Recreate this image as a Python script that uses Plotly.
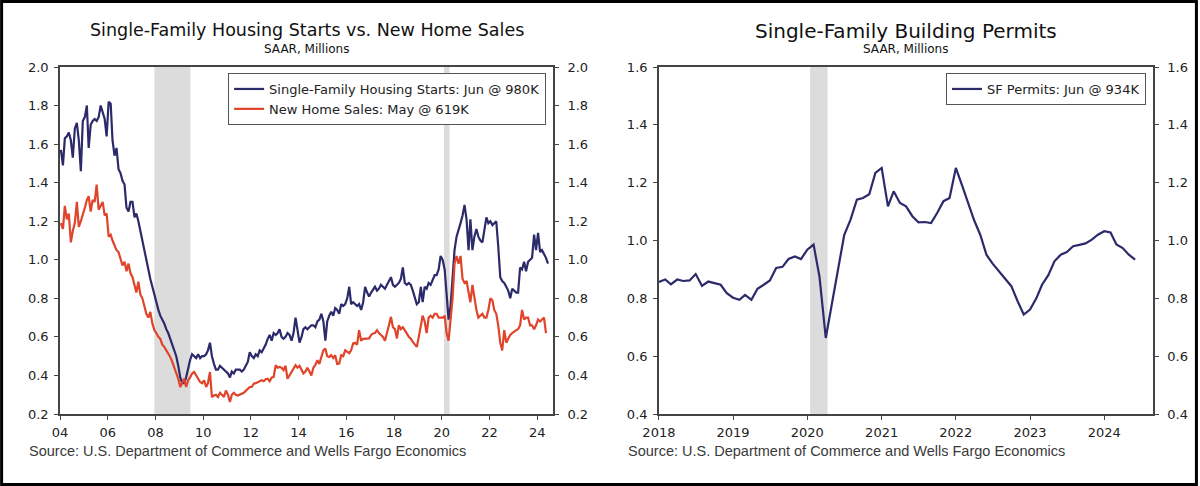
import pandas as pd
import plotly.graph_objects as go

# ---------------- DATA ----------------
# Single-family housing starts, SAAR millions, monthly Jan 2004 - Jun 2024
starts = [
    1.57, 1.49, 1.63, 1.64, 1.66, 1.62, 1.53, 1.68, 1.71, 1.62, 1.46, 1.72,   # 2004
    1.74, 1.80, 1.58, 1.70, 1.72, 1.73, 1.72, 1.74, 1.80, 1.77, 1.73, 1.64,   # 2005
    1.82, 1.81, 1.62, 1.54, 1.58, 1.47, 1.45, 1.41, 1.39, 1.27, 1.25, 1.30,   # 2006
    1.30, 1.22, 1.24, 1.20, 1.15, 1.10, 1.04, 1.00, 0.95, 0.90, 0.86, 0.82,   # 2007
    0.77, 0.74, 0.71, 0.69, 0.67, 0.64, 0.62, 0.59, 0.56, 0.53, 0.50, 0.45,   # 2008
    0.39, 0.36, 0.36, 0.39, 0.44, 0.48, 0.51, 0.50, 0.49, 0.51, 0.49, 0.50,   # 2009
    0.50, 0.51, 0.53, 0.57, 0.50, 0.46, 0.43, 0.43, 0.45, 0.44, 0.43, 0.42,   # 2010
    0.41, 0.39, 0.42, 0.41, 0.43, 0.43, 0.43, 0.42, 0.43, 0.45, 0.47, 0.52,   # 2011
    0.50, 0.49, 0.51, 0.50, 0.53, 0.52, 0.54, 0.56, 0.59, 0.61, 0.58, 0.62,   # 2012
    0.61, 0.62, 0.64, 0.60, 0.59, 0.60, 0.62, 0.61, 0.58, 0.62, 0.70, 0.64,   # 2013
    0.57, 0.60, 0.64, 0.65, 0.64, 0.65, 0.66, 0.66, 0.65, 0.68, 0.69, 0.72,   # 2014
    0.68, 0.58, 0.68, 0.71, 0.73, 0.71, 0.75, 0.74, 0.72, 0.77, 0.76, 0.77,   # 2015
    0.80, 0.86, 0.77, 0.78, 0.77, 0.76, 0.77, 0.74, 0.78, 0.86, 0.83, 0.81,   # 2016
    0.83, 0.85, 0.86, 0.84, 0.85, 0.87, 0.86, 0.85, 0.87, 0.89, 0.91, 0.87,   # 2017
    0.86, 0.87, 0.88, 0.90, 0.96, 0.88, 0.87, 0.88, 0.87, 0.84, 0.80, 0.77,   # 2018
    0.78, 0.86, 0.78, 0.86, 0.85, 0.88, 0.87, 0.90, 0.92, 0.92, 0.95, 1.02,   # 2019
    1.00, 0.95, 0.83, 0.69, 0.76, 0.91, 1.05, 1.12, 1.15, 1.19, 1.23, 1.285,  # 2020
    1.21, 1.05, 1.21, 1.05, 1.12, 1.16, 1.12, 1.10, 1.09, 1.15, 1.22, 1.19,   # 2021
    1.20, 1.18, 1.19, 1.20, 1.07, 0.91, 0.89, 0.88, 0.86, 0.84, 0.80, 0.85,   # 2022
    0.84, 0.83, 0.83, 0.96, 0.95, 0.99, 0.94, 0.99, 1.00, 1.01, 1.13, 1.05,   # 2023
    1.14, 1.04, 1.05, 1.03, 1.01, 0.98,                                       # 2024
]

# New home sales, SAAR millions, monthly Jan 2004 - May 2024
sales = [
    1.19, 1.16, 1.28, 1.21, 1.24, 1.09, 1.15, 1.19, 1.30, 1.17, 1.20, 1.23,   # 2004
    1.27, 1.31, 1.33, 1.25, 1.31, 1.30, 1.39, 1.26, 1.28, 1.30, 1.23, 1.24,   # 2005
    1.12, 1.13, 1.10, 1.07, 1.05, 1.04, 1.00, 0.97, 0.99, 0.94, 0.98, 0.93,   # 2006
    0.91, 0.86, 0.83, 0.886, 0.82, 0.80, 0.76, 0.72, 0.70, 0.73, 0.67, 0.635, # 2007
    0.62, 0.60, 0.59, 0.56, 0.548, 0.53, 0.51, 0.496, 0.47, 0.444, 0.41, 0.383,  # 2008
    0.34, 0.36, 0.383, 0.34, 0.375, 0.39, 0.41, 0.418, 0.40, 0.383, 0.366, 0.36, # 2009
    0.375, 0.34, 0.36, 0.418, 0.288, 0.296, 0.30, 0.288, 0.31, 0.30, 0.288, 0.322,  # 2010
    0.30, 0.262, 0.30, 0.31, 0.30, 0.296, 0.30, 0.305, 0.31, 0.32, 0.33, 0.34,  # 2011
    0.34, 0.357, 0.36, 0.366, 0.37, 0.375, 0.37, 0.38, 0.383, 0.37, 0.39, 0.392,  # 2012
    0.453, 0.44, 0.444, 0.44, 0.427, 0.45, 0.383, 0.40, 0.418, 0.43, 0.453, 0.44,  # 2013
    0.45, 0.43, 0.41, 0.42, 0.44, 0.42, 0.40, 0.44, 0.455, 0.479, 0.46, 0.496,  # 2014
    0.53, 0.54, 0.50, 0.496, 0.505, 0.49, 0.505, 0.46, 0.462, 0.505, 0.50, 0.53,  # 2015
    0.52, 0.515, 0.53, 0.566, 0.57, 0.56, 0.635, 0.58, 0.59, 0.59, 0.59, 0.592,  # 2016
    0.61, 0.618, 0.62, 0.635, 0.62, 0.61, 0.60, 0.58, 0.63, 0.66, 0.704, 0.65,  # 2017
    0.64, 0.592, 0.66, 0.64, 0.65, 0.63, 0.618, 0.60, 0.59, 0.574, 0.56, 0.548,  # 2018
    0.60, 0.66, 0.71, 0.68, 0.62, 0.70, 0.71, 0.70, 0.72, 0.72, 0.70, 0.70,   # 2019
    0.70, 0.71, 0.62, 0.58, 0.69, 0.80, 0.98, 1.02, 0.98, 1.02, 0.90, 0.88,   # 2020
    0.89, 0.83, 0.78, 0.87, 0.80, 0.74, 0.70, 0.71, 0.72, 0.70, 0.70, 0.74,   # 2021
    0.80, 0.79, 0.74, 0.72, 0.66, 0.57, 0.53, 0.635, 0.57, 0.59, 0.61, 0.62,  # 2022
    0.63, 0.635, 0.64, 0.66, 0.74, 0.69, 0.70, 0.70, 0.66, 0.66, 0.64, 0.66,  # 2023
    0.69, 0.68, 0.69, 0.70, 0.619,                                            # 2024
]

# Single-family building permits, SAAR millions, monthly Jan 2018 - Jun 2024
permits = [
    0.857, 0.865, 0.848, 0.865, 0.860, 0.862, 0.884, 0.843, 0.858, 0.852, 0.847, 0.818,  # 2018
    0.802, 0.795, 0.812, 0.795, 0.833, 0.847, 0.862, 0.905, 0.909, 0.936, 0.945, 0.936,  # 2019
    0.968, 0.986, 0.875, 0.663, 0.780, 0.900, 1.020, 1.072, 1.141, 1.147, 1.160, 1.234,  # 2020
    1.251, 1.118, 1.170, 1.130, 1.118, 1.084, 1.063, 1.064, 1.060, 1.095, 1.136, 1.147,  # 2021
    1.251, 1.190, 1.130, 1.070, 1.020, 0.950, 0.920, 0.895, 0.870, 0.842, 0.790, 0.744,  # 2022
    0.761, 0.800, 0.847, 0.880, 0.928, 0.951, 0.960, 0.980, 0.985, 0.990, 1.003, 1.020,  # 2023
    1.032, 1.028, 0.986, 0.974, 0.951, 0.934,                                            # 2024
]

starts_name = "Single-Family Housing Starts: Jun @ 980K"
sales_name = "New Home Sales: May @ 619K"
permits_name = "SF Permits: Jun @ 934K"

recessions_left = [("2007-12-15", "2009-06-20"), ("2020-02-05", "2020-04-30")]
recessions_right = [("2020-01-15", "2020-04-10")]

left_title = "Single-Family Housing Starts vs. New Home Sales"
right_title = "Single-Family Building Permits"
subtitle = "SAAR, Millions"
source = "Source: U.S. Department of Commerce and Wells Fargo Economics"

# ---------------- FIGURE ----------------
W, H = 1200, 486
ML, MR, MT, MB = 60, 45, 67, 72
PW, PH = W - ML - MR, H - MT - MB


def px_x(x):
    return (x - ML) / PW


def px_y(y):
    return 1 - (y - MT) / PH


NAVY = "#2b2a6b"
RED = "#e0442a"
AX = "#444444"
FONT = "DejaVu Sans"

dates_l = pd.date_range("2004-01-01", periods=len(starts), freq="MS") + pd.Timedelta(days=14)
dates_s = pd.date_range("2004-01-01", periods=len(sales), freq="MS") + pd.Timedelta(days=14)
dates_p = pd.date_range("2018-01-01", periods=len(permits), freq="MS")

fig = go.Figure()
fig.add_trace(go.Scatter(x=dates_l, y=starts, name=starts_name, mode="lines",
                         line=dict(color=NAVY, width=2.2), xaxis="x", yaxis="y", legend="legend"))
fig.add_trace(go.Scatter(x=dates_s, y=sales, name=sales_name, mode="lines",
                         line=dict(color=RED, width=2.2), xaxis="x", yaxis="y", legend="legend"))
fig.add_trace(go.Scatter(x=dates_p, y=permits, name=permits_name, mode="lines",
                         line=dict(color=NAVY, width=2.2), xaxis="x2", yaxis="y2", legend="legend2"))
# invisible helpers to carry the mirrored right-hand axes
fig.add_trace(go.Scatter(x=dates_l, y=starts, mode="lines", line=dict(width=0), opacity=0,
                         hoverinfo="skip", showlegend=False, xaxis="x", yaxis="y3"))
fig.add_trace(go.Scatter(x=dates_p, y=permits, mode="lines", line=dict(width=0), opacity=0,
                         hoverinfo="skip", showlegend=False, xaxis="x2", yaxis="y4"))

tickfont = dict(family=FONT, size=13, color="#222222")
base_axis = dict(showgrid=False, zeroline=False, showline=True, linecolor=AX, linewidth=1.5,
                 ticks="outside", ticklen=4, tickcolor=AX, tickwidth=1.2, tickfont=tickfont,
                 fixedrange=True)
x_axis = dict(base_axis, ticklabelstandoff=2)
yl_axis = dict(base_axis, ticklabelstandoff=3)
yr_axis = dict(base_axis, ticklabelstandoff=6)

left_dom = [0, px_x(554)]
right_dom = [px_x(660), 1]

legend_font = dict(family=FONT, size=13, color="#222222")

fig.update_layout(
    width=W, height=H,
    margin=dict(l=ML, r=MR, t=MT, b=MB, pad=0),
    paper_bgcolor="white", plot_bgcolor="white",
    xaxis=dict(domain=left_dom, anchor="y", type="date",
               range=["2004-01-01", "2024-09-01"], tick0="2004-01-01", dtick="M24",
               tickformat="%y", mirror=True, **x_axis),
    yaxis=dict(domain=[0, 1], anchor="x", range=[0.2, 2.0], dtick=0.2, tickformat=".1f",
               **yl_axis),
    yaxis3=dict(overlaying="y", anchor="x", side="right", range=[0.2, 2.0], dtick=0.2,
                tickformat=".1f", **yr_axis),
    xaxis2=dict(domain=right_dom, anchor="y2", type="date",
                range=["2018-01-01", "2024-08-28"], tick0="2018-01-01", dtick="M12",
                tickformat="%Y", mirror=True, **x_axis),
    yaxis2=dict(domain=[0, 1], anchor="x2", range=[0.4, 1.6], dtick=0.2, tickformat=".1f",
                **yl_axis),
    yaxis4=dict(overlaying="y2", anchor="x2", side="right", range=[0.4, 1.6], dtick=0.2,
                tickformat=".1f", **yr_axis),
    legend=dict(x=px_x(547), xanchor="right", y=px_y(73), yanchor="top",
                bordercolor="#555555", borderwidth=1, bgcolor="white",
                font=legend_font, tracegroupgap=0, itemwidth=30),
    legend2=dict(x=px_x(1148), xanchor="right", y=px_y(73), yanchor="top",
                 bordercolor="#555555", borderwidth=1, bgcolor="white",
                 font=legend_font, tracegroupgap=0, itemwidth=30),
    showlegend=True,
)

shapes = []
for a, b in recessions_left:
    shapes.append(dict(type="rect", xref="x", yref="y domain", x0=a, x1=b, y0=0, y1=1,
                       fillcolor="#dcdcdc", line=dict(width=0), layer="below"))
for a, b in recessions_right:
    shapes.append(dict(type="rect", xref="x2", yref="y2 domain", x0=a, x1=b, y0=0, y1=1,
                       fillcolor="#dcdcdc", line=dict(width=0), layer="below"))
# outer frame
shapes.append(dict(type="rect", xref="paper", yref="paper",
                   x0=px_x(1.5), x1=px_x(1198.5), y0=px_y(484.5), y1=px_y(1.5),
                   line=dict(color="black", width=3), fillcolor="rgba(0,0,0,0)", layer="above"))
fig.update_layout(shapes=shapes)

ann = []
lc = (left_dom[0] + left_dom[1]) / 2
rc = (right_dom[0] + right_dom[1]) / 2
ann.append(dict(text=left_title, x=lc, y=px_y(30), xref="paper", yref="paper", showarrow=False,
                xanchor="center", yanchor="middle", font=dict(family=FONT, size=17.5, color="#111111")))
ann.append(dict(text=right_title, x=rc, y=px_y(31), xref="paper", yref="paper", showarrow=False,
                xanchor="center", yanchor="middle", font=dict(family=FONT, size=20, color="#111111")))
for c in (lc, rc):
    ann.append(dict(text=subtitle, x=c, y=px_y(49), xref="paper", yref="paper", showarrow=False,
                    xanchor="center", yanchor="middle", font=dict(family=FONT, size=12, color="#111111")))
for sx in (27, 627):
    ann.append(dict(text=source, x=px_x(sx), y=px_y(451), xref="paper", yref="paper", showarrow=False,
                    xanchor="left", yanchor="middle",
                    font=dict(family="Liberation Sans", size=14.5, color="#3a3a3a")))
fig.update_layout(annotations=ann)

fig.write_html("out.html", config={"displayModeBar": False},
               post_script="document.body.style.margin='0';document.body.style.padding='0';"
                           "document.body.style.overflow='hidden';")
